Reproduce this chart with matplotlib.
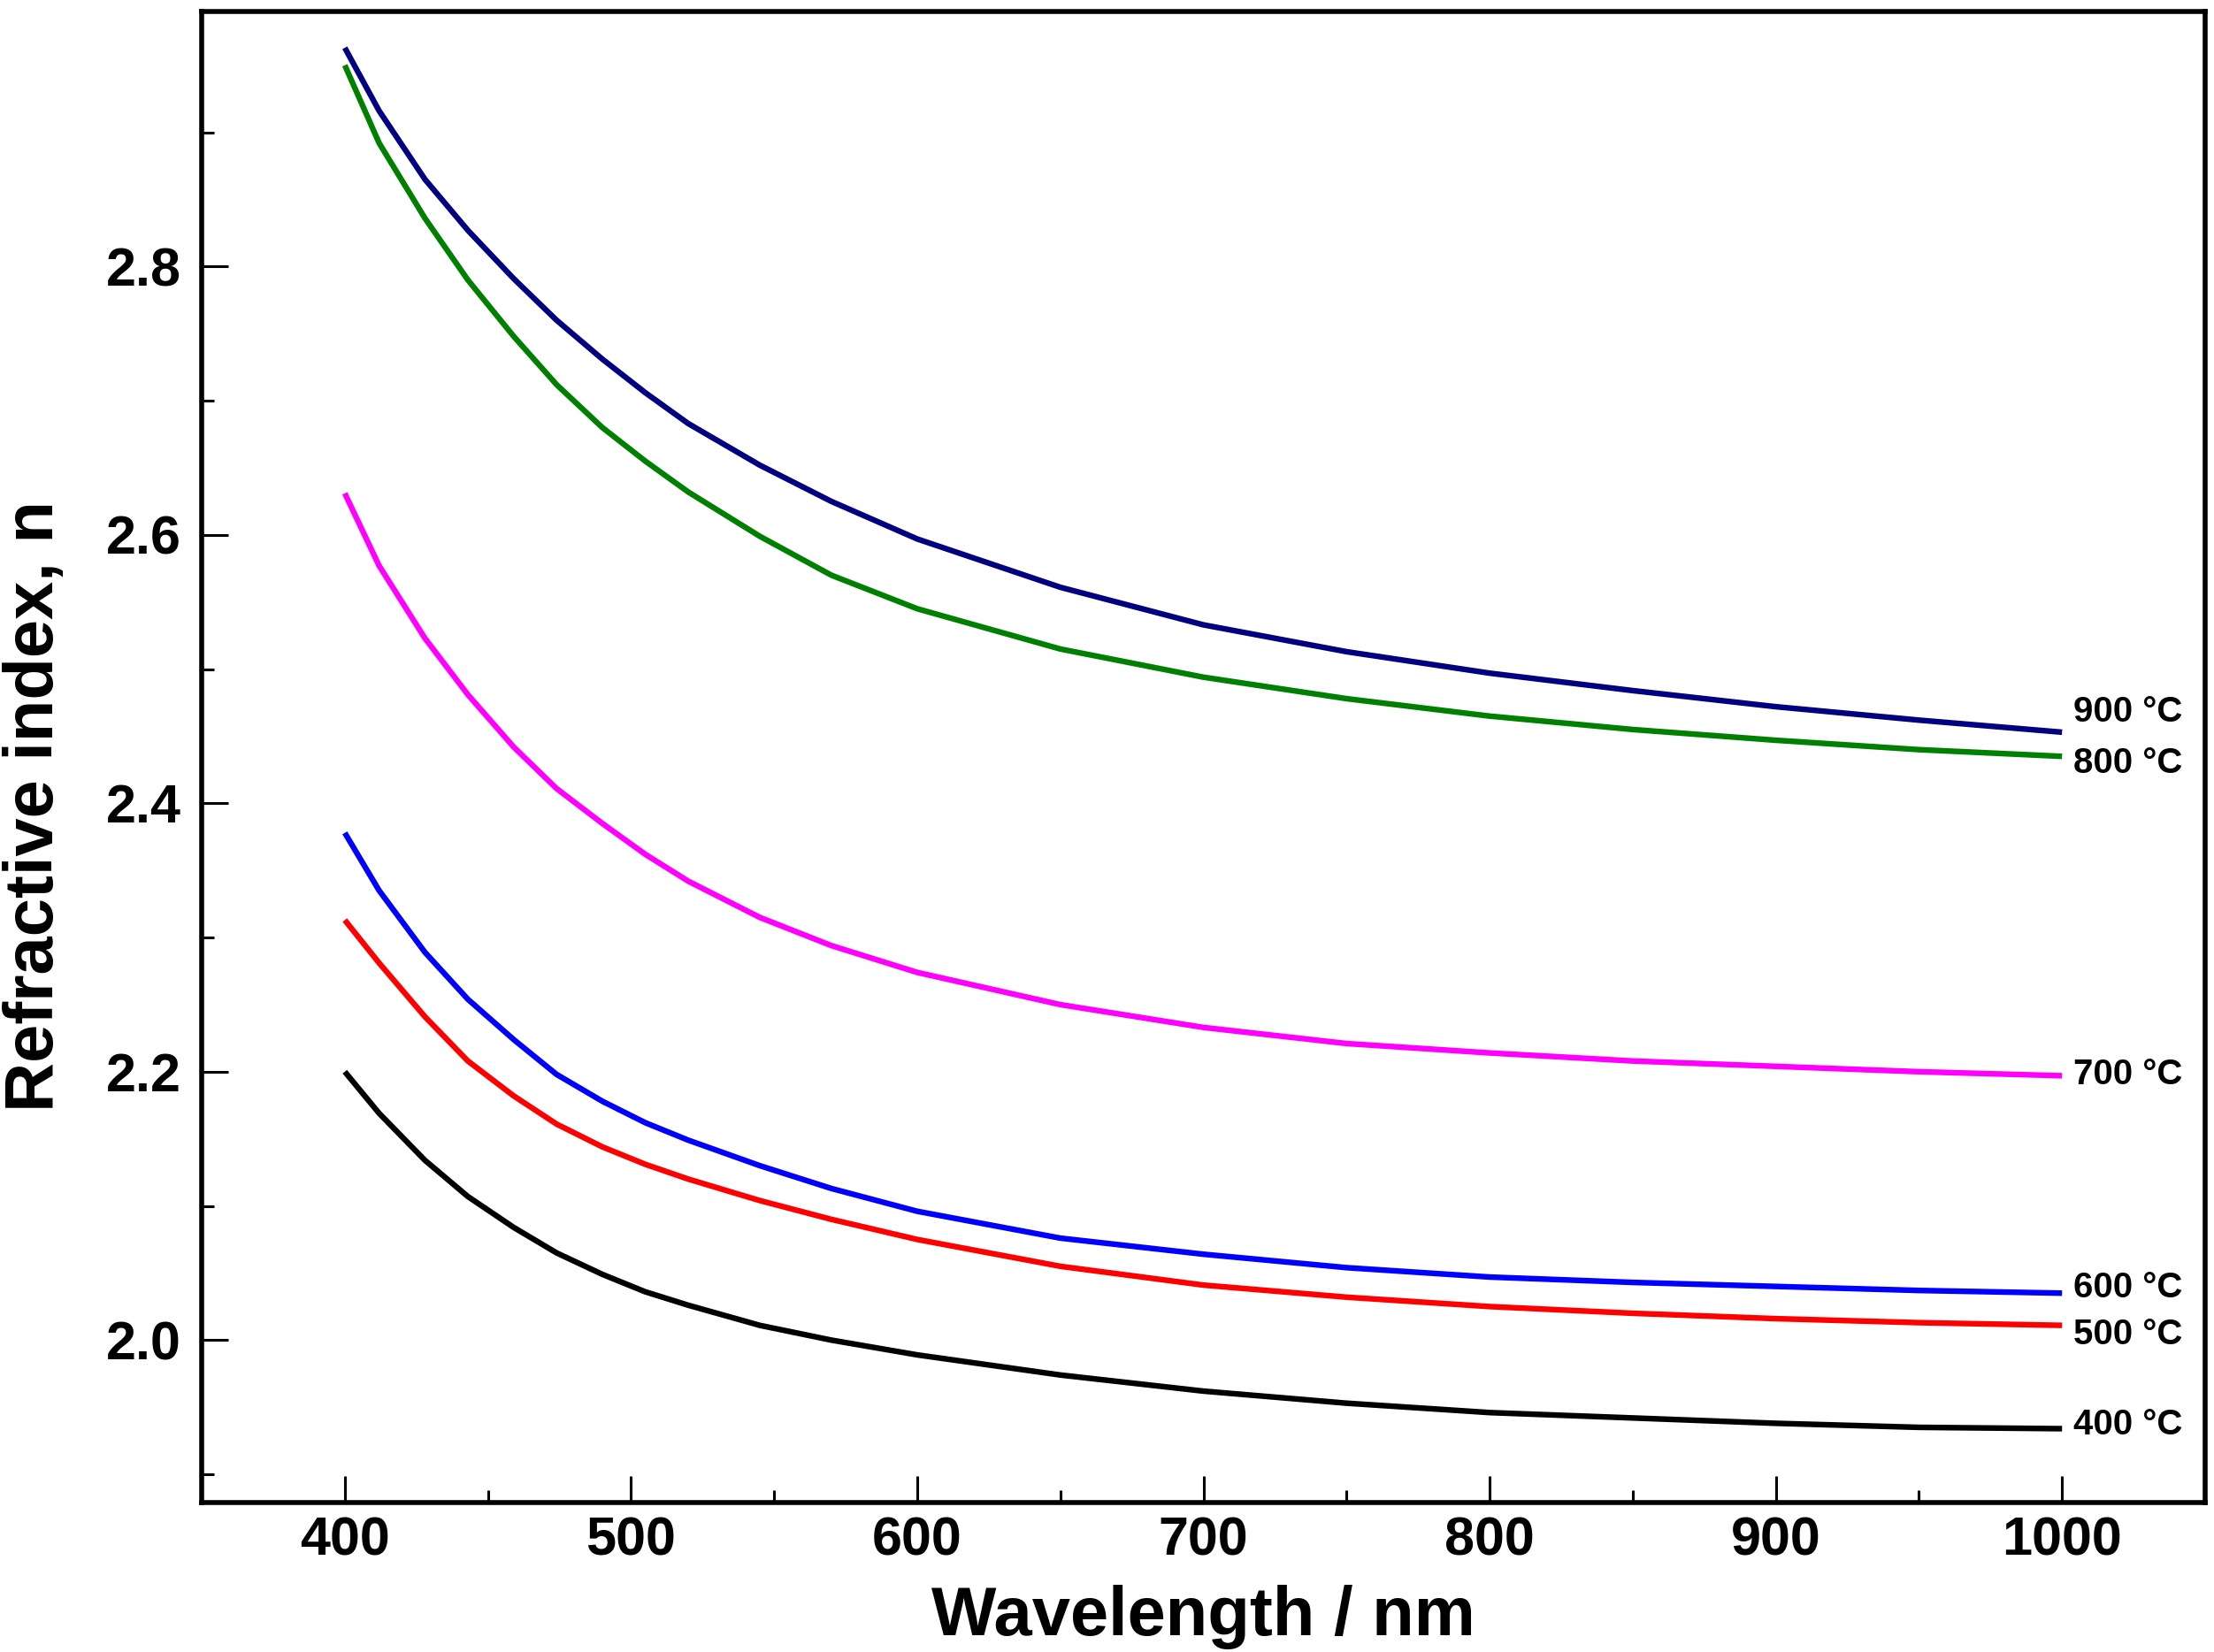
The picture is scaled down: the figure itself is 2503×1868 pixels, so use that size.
import matplotlib
matplotlib.use("Agg")
import matplotlib.pyplot as plt
from matplotlib.ticker import MultipleLocator, FormatStrFormatter

plt.rcParams['font.family'] = ['Liberation Sans', 'DejaVu Sans']
plt.rcParams['font.weight'] = 'bold'

# wavelength grid (nm) the curves were read at
wavelength = [400, 412, 428, 443, 459, 474, 490, 505, 520, 545, 570, 600,
              650, 700, 750, 800, 850, 900, 950, 1000]

# refractive index, one list per annealing temperature
n_400 = [2.200, 2.169, 2.134, 2.107, 2.084, 2.065, 2.049, 2.036, 2.026, 2.011,
         2.000, 1.989, 1.974, 1.962, 1.953, 1.946, 1.942, 1.938, 1.935, 1.934]
n_500 = [2.313, 2.281, 2.241, 2.208, 2.182, 2.161, 2.144, 2.131, 2.120, 2.104,
         2.090, 2.075, 2.055, 2.041, 2.032, 2.025, 2.020, 2.016, 2.013, 2.011]
n_600 = [2.378, 2.335, 2.289, 2.254, 2.224, 2.198, 2.178, 2.162, 2.149, 2.130,
         2.113, 2.096, 2.076, 2.064, 2.054, 2.047, 2.043, 2.040, 2.037, 2.035]
n_700 = [2.631, 2.577, 2.523, 2.481, 2.442, 2.411, 2.385, 2.362, 2.342, 2.315,
         2.294, 2.274, 2.250, 2.233, 2.221, 2.214, 2.208, 2.204, 2.200, 2.197]
n_800 = [2.950, 2.892, 2.836, 2.790, 2.748, 2.712, 2.680, 2.655, 2.632, 2.599,
         2.570, 2.545, 2.515, 2.494, 2.478, 2.465, 2.455, 2.447, 2.440, 2.435]
n_900 = [2.963, 2.916, 2.865, 2.827, 2.791, 2.760, 2.731, 2.706, 2.683, 2.652,
         2.625, 2.597, 2.561, 2.533, 2.513, 2.497, 2.484, 2.472, 2.462, 2.453]

labels = ["400 °C", "500 °C", "600 °C", "700 °C", "800 °C", "900 °C"]
label_y = [1.937, 2.004, 2.039, 2.198, 2.430, 2.468]
colors = ["black", "#FF0000", "#0000FF", "#FF00FF", "#008000", "#000080"]
series = [n_400, n_500, n_600, n_700, n_800, n_900]

fig = plt.figure(figsize=(25.03, 18.68), dpi=100)
ax = fig.add_axes([0.0911, 0.0905, 0.9049, 0.9025])

for n, c in zip(series, colors):
    ax.plot(wavelength, n, color=c, lw=4.6, solid_capstyle='butt',
            solid_joinstyle='round')

for lab, y in zip(labels, label_y):
    ax.text(1004, y, lab, fontsize=29, fontweight='bold', ha='left', va='center')

ax.set_xlim(350, 1050)
ax.set_ylim(1.879, 2.99)
ax.set_xticks([400, 500, 600, 700, 800, 900, 1000])
ax.xaxis.set_minor_locator(MultipleLocator(50))
ax.yaxis.set_major_locator(MultipleLocator(0.2))
ax.yaxis.set_minor_locator(MultipleLocator(0.1))
ax.yaxis.set_major_formatter(FormatStrFormatter('%.1f'))

ax.tick_params(which='both', direction='in', top=False, right=False, width=2.2)
ax.tick_params(which='major', length=21.5)
ax.tick_params(which='minor', length=10)
ax.tick_params(axis='x', which='major', labelsize=44, pad=11)
ax.tick_params(axis='y', which='major', labelsize=44, pad=17)
for lab in ax.get_xticklabels() + ax.get_yticklabels():
    lab.set_fontweight('bold')

for side in ['left', 'bottom', 'right', 'top']:
    ax.spines[side].set_linewidth(4)

ax.set_xlabel("Wavelength / nm", fontsize=56, fontweight='bold')
ax.set_ylabel("Refractive index, n", fontsize=56, fontweight='bold')
ax.xaxis.set_label_coords(0.5, -0.0553)
ax.yaxis.set_label_coords(-0.067, 0.467)

fig.savefig("out.png", dpi=100)
